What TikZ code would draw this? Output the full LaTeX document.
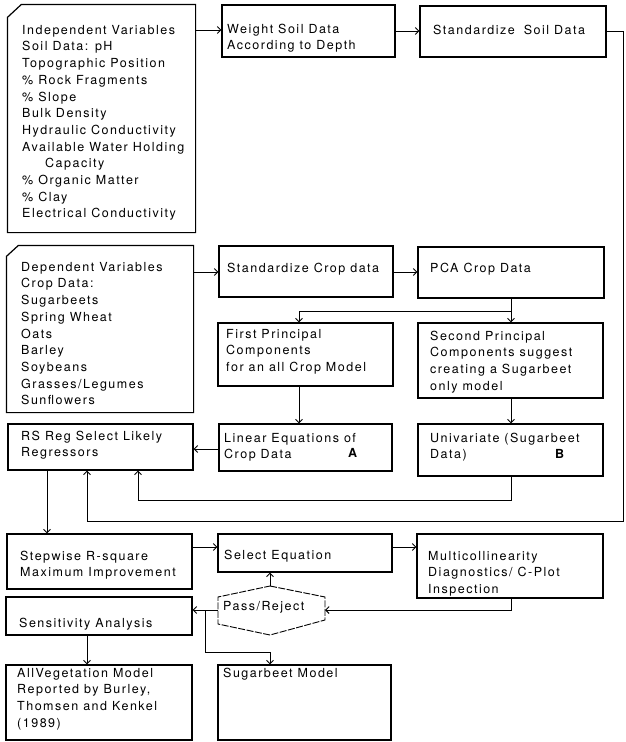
\documentclass[tikz,border=0pt]{standalone}
\usepackage{fontspec}
\setmainfont[LetterSpace=12]{TeX Gyre Heros}
\usetikzlibrary{arrows.meta,fit}
\newcommand\fst{\rule{0pt}{10pt}}
\newcommand\mybox[6][]{\node[bx,#1,fit={(#3,#4) (#5,#6)}] (#2) {};}
\newcommand\mytx[4]{\node[txt] (#1) at (#2,#3) {\fst#4};}
\begin{document}
\begin{tikzpicture}[x=1pt,y=-1pt,
  bx/.style={draw,line width=1.2pt,inner sep=0pt,rectangle},
  bl/.style={line width=1.2pt,line join=miter},
  txt/.style={anchor=north west,inner sep=0pt,yshift=10pt,align=left,
    font=\fontsize{12.5}{16.7}\selectfont},
  ln/.style={line width=0.9pt},
  arr/.style={line width=0.9pt,-{Straight Barb[length=3.5pt,width=7pt]}},
  hexa/.style={line width=0.9pt,dash pattern=on 7pt off 1.5pt}]
\useasboundingbox (0,0) rectangle (625,742);
\fill[white] (0,0) rectangle (625,742);

% boxes
\mybox[draw=none]{ind}{8}{5}{195}{232}
\draw[bl] ([yshift=-13pt]ind.north west) -- ([xshift=14pt]ind.north west) -- (ind.north east) -- (ind.south east) -- (ind.south west) -- cycle;
\mybox{wt}{222}{5}{395}{57}
\mybox{ss}{420}{6}{606}{57}
\mybox[draw=none]{dep}{7}{246}{193}{412}
\draw[bl] ([yshift=-11pt]dep.north west) -- ([xshift=12pt]dep.north west) -- (dep.north east) -- (dep.south east) -- (dep.south west) -- cycle;
\mybox{sc}{219}{246}{393}{297}
\mybox{pca}{418}{247}{604}{298}
\mybox{fpc}{218}{323}{393}{386}
\mybox{spc}{418}{323}{603}{398}
\mybox{rs}{8}{424}{193}{470}
\mybox{lin}{219}{424}{392}{471}
\mybox{uni}{418}{424}{603}{476}
\mybox{stp}{7}{534}{192}{589}
\mybox{sel}{218}{534}{392}{572}
\mybox{mc}{417}{534}{603}{598}
\mybox{sen}{6}{597}{192}{635}
\mybox{av}{6}{665}{192}{740}
\mybox{sb}{218}{665}{391}{740}

% decision hexagon
\coordinate (prT) at (270,586);
\coordinate (prUR) at (325,597);
\coordinate (prLR) at (325,620);
\coordinate (prB) at (270,635);
\coordinate (prLL) at (218,624);
\coordinate (prUL) at (218,597);
\coordinate (prR) at (325,610);
\coordinate (prL) at (218,610);
\draw[hexa] (prT) -- (prUR) -- (prLR) -- (prB) -- (prLL) -- (prUL) -- cycle;

% texts
\mytx{tind}{22}{34}{Independent Variables\\Soil Data: pH\\Topographic Position\\\% Rock Fragments\\\% Slope\\Bulk Density\\Hydraulic Conductivity\\Available Water Holding\\\hspace*{23pt}Capacity\\\% Organic Matter\\\% Clay\\Electrical Conductivity}
\mytx{twt}{227}{33}{Weight Soil Data\\According to Depth}
\mytx{tss}{433}{34}{Standardize\hspace{4pt} Soil Data}
\mytx{tdep}{21}{271}{Dependent Variables\\Crop Data:\\Sugarbeets\\Spring Wheat\\Oats\\Barley\\Soybeans\\Grasses/Legumes\\Sunflowers}
\mytx{tsc}{227}{272}{Standardize Crop data}
\mytx{tpca}{430}{272}{PCA Crop Data}
\mytx{tfpc}{226}{338}{First Principal\\Components\\for an all Crop Model}
\mytx{tspc}{430}{340}{Second Principal\\Components suggest\\creating a Sugarbeet\\only model}
\mytx{trs}{21}{440}{RS Reg Select Likely\\Regressors}
\mytx{tlin}{224}{442}{Linear Equations of\\Crop Data}
\mytx{tA}{348}{457}{\bfseries A}
\mytx{tuni}{430}{442}{Univariate (Sugarbeet\\Data)}
\mytx{tB}{555}{458}{\bfseries B}
\mytx{tstp}{20}{560}{Stepwise R-square\\Maximum Improvement}
\mytx{tsel}{224}{559}{Select Equation}
\mytx{tmc}{428}{560}{Multicollinearity\\Diagnostics/ C-Plot\\Inspection}
\mytx{tpr}{223}{610}{Pass/Reject}
\mytx{tsen}{19}{627}{Sensitivity Analysis}
\mytx{tav}{17}{677}{AllVegetation Model\\Reported by Burley,\\Thomsen and Kenkel\\(1989)}
\mytx{tsb}{223}{677}{Sugarbeet Model}

% connectors
\draw[arr] (ind.east |- 0,30) -- (wt.west |- 0,30);
\draw[arr] (wt.east |- 0,31) -- (ss.west |- 0,31);
\draw[arr] (ss.east |- 0,31) -- (623,31) -- (623,521) -| (rs.south -| 87,0);
\draw[arr] (dep.east |- 0,272) -- (sc.west |- 0,272);
\draw[arr] (sc.east |- 0,272) -- (pca.west |- 0,272);
\draw[ln] (pca.south -| 511,0) -- (511,311);
\draw[arr] (511,311) -- (spc.north -| 511,0);
\draw[arr] (511,311) -| (fpc.north -| 299,0);
\draw[arr] (fpc.south -| 299,0) -- (lin.north -| 299,0);
\draw[arr] (spc.south -| 511,0) -- (uni.north -| 511,0);
\draw[arr] (lin.west |- 0,449) -- (rs.east |- 0,449);
\draw[arr] (uni.south -| 511,0) -- (511,500) -| (rs.south -| 138,0);
\draw[arr] (rs.south -| 47,0) -- (stp.north -| 47,0);
\draw[arr] (stp.east |- 0,547) -- (sel.west |- 0,547);
\draw[arr] (sel.east |- 0,547) -- (mc.west |- 0,547);
\draw[arr] (mc.south -| 511,0) |- (prR);
\draw[arr] (prT) -- (sel.south -| prT);
\draw[arr] (prL) -- (sen.east |- prL);
\coordinate (br) at (205,610);
\draw[arr] (br) -- (205,652) -| (sb.north -| 270,0);
\draw[arr] (sen.south -| 87,0) -- (av.north -| 87,0);
\end{tikzpicture}
\end{document}
